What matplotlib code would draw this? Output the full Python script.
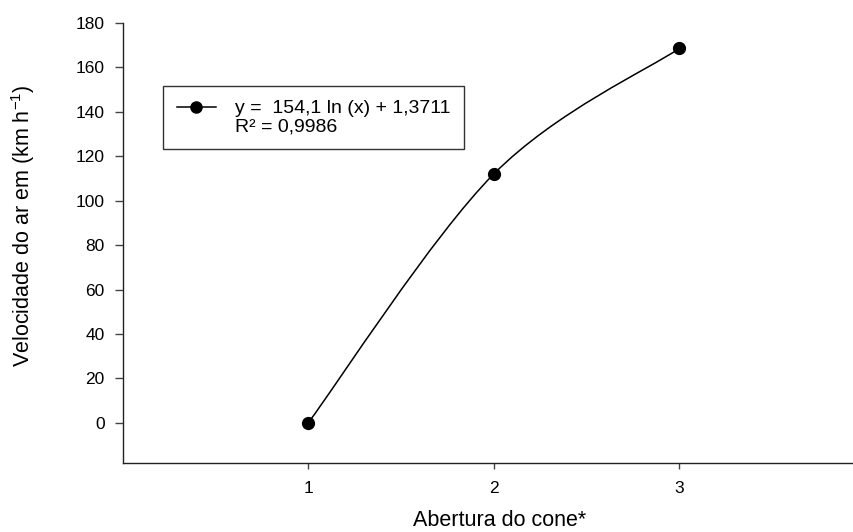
import matplotlib.pyplot as plt
from matplotlib.path import Path
from matplotlib.patches import PathPatch
from matplotlib.lines import Line2D

# data
abertura = [1, 2, 3]
velocidade = [0.0, 112.0, 168.5]
x_ticks = [1, 2, 3]
y_ticks = [0, 20, 40, 60, 80, 100, 120, 140, 160, 180]
eq_label = "y =  154,1 ln (x) + 1,3711"
r2_label = "R\u00b2 = 0,9986"

plt.rcParams['font.family'] = ['Liberation Sans', 'DejaVu Sans']
plt.rcParams['axes.unicode_minus'] = False

fig = plt.figure(figsize=(8.54, 5.32), dpi=100)
ax = fig.add_axes([0.1437, 0.130, 0.856, 0.827])

# smooth curve through the points (Catmull-Rom as cubic bezier)
verts = [(abertura[0], velocidade[0])]
codes = [Path.MOVETO]
n = len(abertura)
for i in range(n - 1):
    p0 = (abertura[max(i - 1, 0)], velocidade[max(i - 1, 0)])
    p1 = (abertura[i], velocidade[i])
    p2 = (abertura[i + 1], velocidade[i + 1])
    p3 = (abertura[min(i + 2, n - 1)], velocidade[min(i + 2, n - 1)])
    c1 = (p1[0] + (p2[0] - p0[0]) / 6, p1[1] + (p2[1] - p0[1]) / 6)
    c2 = (p2[0] - (p3[0] - p1[0]) / 6, p2[1] - (p3[1] - p1[1]) / 6)
    verts += [c1, c2, p2]
    codes += [Path.CURVE4] * 3
ax.add_patch(PathPatch(Path(verts, codes), fill=False, edgecolor='black', lw=1.1))
ax.plot(abertura, velocidade, 'o', color='black', markersize=8.5, zorder=3)

ax.set_xlim(0, 3.94)
ax.set_ylim(-18, 180)
ax.set_xticks(x_ticks)
ax.set_yticks(y_ticks)
ax.spines['top'].set_visible(False)
ax.spines['right'].set_visible(False)
for s in ['left', 'bottom']:
    ax.spines[s].set_linewidth(1.0)
    ax.spines[s].set_color('#222222')
ax.tick_params(axis='both', direction='out', width=1, color='#444444', labelsize=12.5)
ax.tick_params(axis='y', length=6, pad=7)
ax.tick_params(axis='x', length=4, pad=9)

ax.set_xlabel("Abertura do cone*", fontsize=15.5)
ax.xaxis.set_label_coords(0.516, -0.108)
ax.set_ylabel("Velocidade do ar em (km h$^{\\mathregular{-1}}$)", fontsize=15.5)
ax.yaxis.set_label_coords(-0.117, 0.54)

handle = Line2D([], [], color='black', marker='o', markersize=8, lw=1.1)
blank = Line2D([], [], alpha=0)
leg = ax.legend([handle, blank], [eq_label, r2_label], loc='upper left',
                bbox_to_anchor=(0.055, 0.856), borderaxespad=0, fontsize=14,
                frameon=True, fancybox=False, labelspacing=0.0, handlelength=2.05,
                handletextpad=0.95, borderpad=0.7)
leg.get_frame().set_edgecolor('black')
leg.get_frame().set_linewidth(1.0)

fig.savefig("out.png", dpi=100)
